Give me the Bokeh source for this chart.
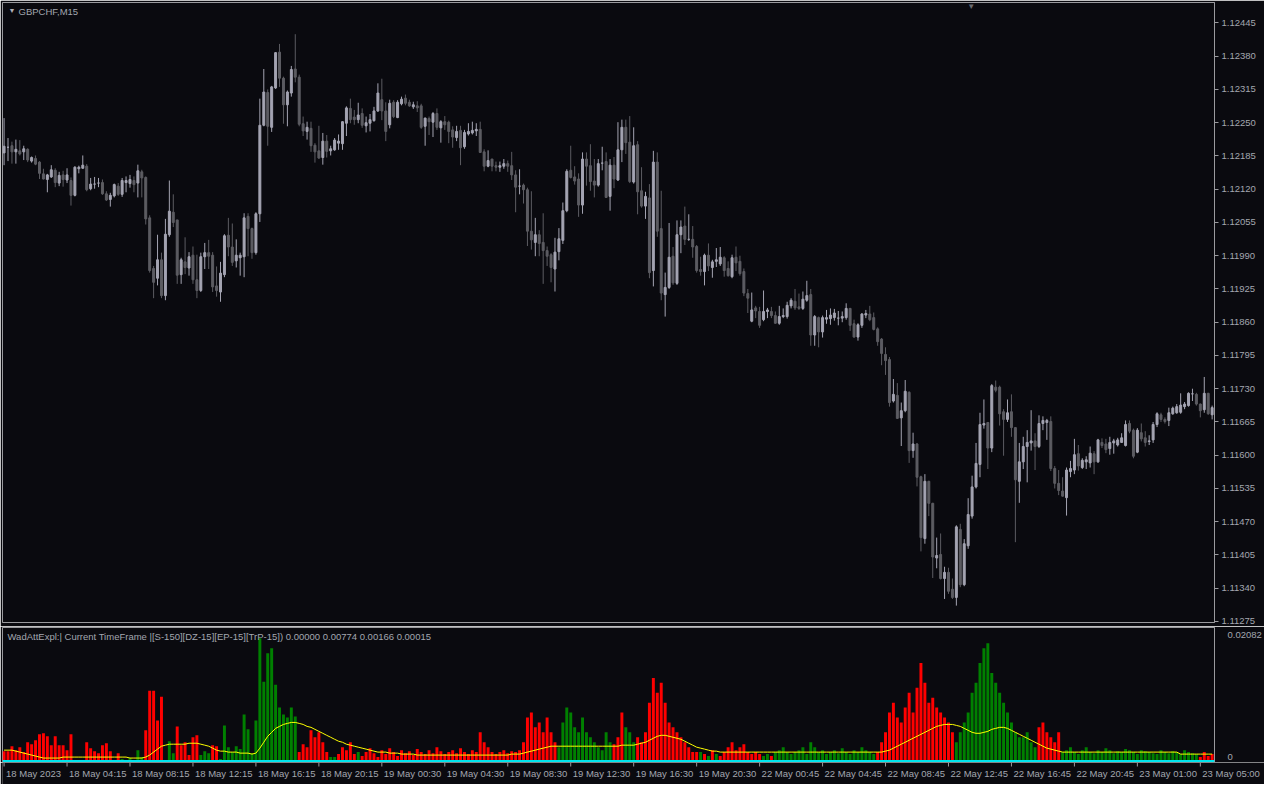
from bokeh.plotting import figure
from bokeh.layouts import column
from bokeh.models import (ColumnDataSource, FixedTicker, PrintfTickFormatter, Range1d,
                          Span, Label, Plot)
from bokeh.core.properties import value
from bokeh.embed import file_html
from bokeh.resources import INLINE

# ---------------- data ----------------
symbol = "GBPCHF,M15"
indicator_caption = ("WadAttExpl:| Current TimeFrame |[S-150][DZ-15][EP-15][TrP-15]) "
                     "0.00000 0.00774 0.00166 0.00015")

opens = [
 1.12191,1.12202,1.12205,1.12193,1.12195,1.12193,1.12198,1.12175,1.12180,1.12173,
 1.12150,1.12139,1.12144,1.12157,1.12132,1.12148,1.12138,1.12137,1.12108,1.12160,
 1.12161,1.12165,1.12121,1.12130,1.12132,1.12133,1.12111,1.12100,1.12107,1.12126,
 1.12110,1.12133,1.12131,1.12137,1.12132,1.12154,1.12143,1.12064,1.11965,1.11946,
 1.11982,1.11912,1.12031,1.12075,1.12060,1.11953,1.11978,1.11966,1.11991,1.11943,
 1.11922,1.11988,1.11996,1.11991,1.11931,1.11919,1.11953,1.12030,1.12007,1.11980,
 1.11986,1.11988,1.12067,1.12043,1.11996,1.12072,1.12245,1.12309,1.12241,1.12318,
 1.12388,1.12337,1.12285,1.12308,1.12355,1.12339,1.12248,1.12233,1.12239,1.12206,
 1.12195,1.12182,1.12214,1.12195,1.12197,1.12210,1.12209,1.12249,1.12278,1.12261,
 1.12256,1.12268,1.12244,1.12249,1.12254,1.12273,1.12295,1.12273,1.12246,1.12290,
 1.12260,1.12287,1.12298,1.12290,1.12281,1.12283,1.12283,1.12243,1.12258,1.12251,
 1.12268,1.12240,1.12252,1.12251,1.12236,1.12221,1.12235,1.12203,1.12228,1.12230,
 1.12234,1.12237,1.12193,1.12165,1.12179,1.12166,1.12163,1.12165,1.12170,1.12166,
 1.12148,1.12126,1.12128,1.12119,1.12038,1.12016,1.12031,1.12016,1.12000,1.11992,
 1.11964,1.11998,1.12020,1.12078,1.12157,1.12144,1.12140,1.12089,1.12179,1.12166,
 1.12136,1.12128,1.12171,1.12174,1.12106,1.12167,1.12138,1.12197,1.12241,1.12212,
 1.12134,1.12207,1.12117,1.12087,1.12103,1.11961,1.12173,1.12043,1.11914,1.11928,
 1.11989,1.11936,1.12031,1.12048,1.12022,1.12022,1.12008,1.11963,1.11959,1.11991,
 1.11967,1.11979,1.11974,1.11986,1.11965,1.11949,1.11987,1.11979,1.11959,1.11916,
 1.11862,1.11888,1.11881,1.11865,1.11881,1.11881,1.11873,1.11858,1.11871,1.11871,
 1.11892,1.11901,1.11890,1.11887,1.11903,1.11914,1.11835,1.11869,1.11841,1.11866,
 1.11867,1.11869,1.11868,1.11868,1.11869,1.11887,1.11857,1.11831,1.11854,1.11874,
 1.11876,1.11869,1.11847,1.11827,1.11797,1.11787,1.11706,1.11717,1.11673,1.11687,
 1.11723,1.11609,1.11622,1.11558,1.11437,1.11549,1.11506,1.11399,1.11406,1.11359,
 1.11371,1.11338,1.11322,1.11455,1.11347,1.11423,1.11481,1.11538,1.11582,1.11659,
 1.11664,1.11614,1.11733,1.11733,1.11685,1.11670,1.11685,1.11654,1.11549,1.11587,
 1.11617,1.11624,1.11628,1.11617,1.11662,1.11664,1.11666,1.11574,1.11545,1.11530,
 1.11517,1.11568,1.11571,1.11603,1.11576,1.11587,1.11585,1.11603,1.11587,1.11625,
 1.11622,1.11613,1.11624,1.11620,1.11625,1.11619,1.11662,1.11649,1.11606,1.11644,
 1.11634,1.11627,1.11630,1.11660,1.11679,1.11670,1.11668,1.11681,1.11683,1.11684,
 1.11695,1.11697,1.11720,1.11719,1.11700,1.11689,1.11721,1.11679]

highs = [
 1.12259,1.12220,1.12213,1.12217,1.12216,1.12205,1.12200,1.12184,1.12186,1.12175,
 1.12160,1.12150,1.12167,1.12161,1.12154,1.12156,1.12161,1.12143,1.12165,1.12166,
 1.12186,1.12169,1.12142,1.12144,1.12142,1.12139,1.12116,1.12113,1.12131,1.12132,
 1.12142,1.12145,1.12148,1.12145,1.12168,1.12158,1.12145,1.12069,1.11970,1.12031,
 1.11996,1.12062,1.12137,1.12110,1.12060,1.11986,1.12026,1.11997,1.12008,1.11992,
 1.11996,1.12015,1.12021,1.11997,1.11969,1.11978,1.12032,1.12064,1.12053,1.12022,
 1.11996,1.12073,1.12073,1.12045,1.12075,1.12297,1.12355,1.12315,1.12322,1.12388,
 1.12404,1.12340,1.12313,1.12361,1.12423,1.12344,1.12262,1.12252,1.12252,1.12210,
 1.12244,1.12230,1.12226,1.12205,1.12220,1.12227,1.12253,1.12282,1.12297,1.12275,
 1.12289,1.12278,1.12262,1.12267,1.12281,1.12327,1.12336,1.12290,1.12295,1.12294,
 1.12294,1.12301,1.12305,1.12295,1.12291,1.12292,1.12287,1.12260,1.12262,1.12271,
 1.12278,1.12255,1.12263,1.12254,1.12243,1.12244,1.12244,1.12236,1.12249,1.12252,
 1.12249,1.12252,1.12198,1.12196,1.12179,1.12174,1.12174,1.12179,1.12176,1.12193,
 1.12157,1.12159,1.12131,1.12123,1.12116,1.12064,1.12040,1.12073,1.12008,1.11995,
 1.12025,1.12044,1.12094,1.12159,1.12205,1.12165,1.12151,1.12192,1.12192,1.12208,
 1.12179,1.12179,1.12203,1.12192,1.12179,1.12183,1.12251,1.12256,1.12256,1.12263,
 1.12241,1.12214,1.12163,1.12115,1.12130,1.12195,1.12192,1.12117,1.11957,1.12054,
 1.12007,1.12059,1.12059,1.12086,1.12071,1.12048,1.12011,1.11988,1.11994,1.12014,
 1.11982,1.12005,1.12007,1.11989,1.11979,1.11992,1.12008,1.11990,1.11965,1.11925,
 1.11918,1.11892,1.11890,1.11922,1.11888,1.11890,1.11881,1.11892,1.11887,1.11900,
 1.11907,1.11925,1.11916,1.11920,1.11941,1.11925,1.11874,1.11871,1.11873,1.11884,
 1.11887,1.11886,1.11882,1.11881,1.11897,1.11888,1.11865,1.11858,1.11878,1.11884,
 1.11892,1.11879,1.11850,1.11829,1.11811,1.11792,1.11749,1.11741,1.11703,1.11747,
 1.11725,1.11644,1.11624,1.11560,1.11563,1.11550,1.11507,1.11439,1.11447,1.11382,
 1.11380,1.11359,1.11463,1.11466,1.11436,1.11516,1.11560,1.11624,1.11683,1.11709,
 1.11665,1.11739,1.11746,1.11736,1.11690,1.11709,1.11719,1.11655,1.11624,1.11636,
 1.11649,1.11688,1.11643,1.11678,1.11676,1.11671,1.11676,1.11579,1.11571,1.11557,
 1.11576,1.11589,1.11632,1.11620,1.11594,1.11598,1.11617,1.11608,1.11632,1.11633,
 1.11632,1.11636,1.11632,1.11634,1.11643,1.11668,1.11668,1.11652,1.11653,1.11662,
 1.11647,1.11639,1.11665,1.11684,1.11683,1.11674,1.11693,1.11695,1.11700,1.11721,
 1.11704,1.11723,1.11730,1.11722,1.11701,1.11753,1.11722,1.11697]

lows = [
 1.12167,1.12175,1.12170,1.12170,1.12186,1.12177,1.12173,1.12172,1.12167,1.12140,
 1.12139,1.12114,1.12142,1.12124,1.12126,1.12125,1.12132,1.12088,1.12106,1.12151,
 1.12160,1.12116,1.12118,1.12121,1.12124,1.12109,1.12097,1.12086,1.12104,1.12107,
 1.12105,1.12114,1.12123,1.12114,1.12104,1.12104,1.12051,1.11957,1.11907,1.11932,
 1.11907,1.11903,1.12027,1.12046,1.11935,1.11935,1.11954,1.11951,1.11935,1.11907,
 1.11919,1.11964,1.11964,1.11919,1.11910,1.11900,1.11948,1.11989,1.11970,1.11967,
 1.11951,1.11948,1.11989,1.11984,1.11992,1.12056,1.12243,1.12205,1.12232,1.12316,
 1.12320,1.12248,1.12243,1.12301,1.12329,1.12243,1.12224,1.12217,1.12193,1.12172,
 1.12179,1.12168,1.12182,1.12186,1.12195,1.12197,1.12197,1.12224,1.12249,1.12246,
 1.12249,1.12240,1.12231,1.12233,1.12252,1.12271,1.12255,1.12214,1.12239,1.12259,
 1.12259,1.12284,1.12284,1.12281,1.12277,1.12271,1.12238,1.12205,1.12226,1.12222,
 1.12236,1.12211,1.12236,1.12210,1.12201,1.12214,1.12167,1.12199,1.12225,1.12227,
 1.12224,1.12191,1.12155,1.12163,1.12155,1.12155,1.12154,1.12160,1.12154,1.12138,
 1.12075,1.12110,1.12092,1.12009,1.12002,1.11989,1.11989,1.11935,1.11970,1.11938,
 1.11920,1.11981,1.12013,1.12075,1.12141,1.12129,1.12066,1.12072,1.12127,1.12117,
 1.12104,1.12125,1.12157,1.12103,1.12078,1.12122,1.12136,1.12173,1.12189,1.12132,
 1.12131,1.12071,1.12084,1.12062,1.11946,1.11930,1.12027,1.11903,1.11871,1.11925,
 1.11933,1.11933,1.11995,1.12011,1.12019,1.11986,1.11957,1.11951,1.11932,1.11960,
 1.11947,1.11968,1.11970,1.11949,1.11949,1.11946,1.11960,1.11951,1.11911,1.11878,
 1.11860,1.11868,1.11849,1.11862,1.11868,1.11868,1.11857,1.11855,1.11868,1.11867,
 1.11887,1.11884,1.11884,1.11884,1.11900,1.11814,1.11814,1.11811,1.11830,1.11857,
 1.11855,1.11863,1.11854,1.11860,1.11865,1.11843,1.11830,1.11824,1.11849,1.11868,
 1.11862,1.11844,1.11814,1.11776,1.11757,1.11695,1.11703,1.11671,1.11618,1.11684,
 1.11585,1.11595,1.11539,1.11412,1.11427,1.11481,1.11360,1.11379,1.11357,1.11319,
 1.11329,1.11319,1.11306,1.11342,1.11344,1.11417,1.11476,1.11535,1.11557,1.11652,
 1.11573,1.11606,1.11723,1.11658,1.11599,1.11665,1.11636,1.11430,1.11507,1.11573,
 1.11547,1.11609,1.11571,1.11614,1.11649,1.11630,1.11569,1.11535,1.11522,1.11519,
 1.11482,1.11557,1.11563,1.11570,1.11573,1.11573,1.11576,1.11563,1.11585,1.11614,
 1.11604,1.11601,1.11603,1.11617,1.11624,1.11617,1.11643,1.11594,1.11604,1.11627,
 1.11617,1.11620,1.11624,1.11655,1.11665,1.11662,1.11657,1.11679,1.11681,1.11681,
 1.11690,1.11695,1.11706,1.11697,1.11674,1.11683,1.11679,1.11670]

closes = [
 1.12204,1.12202,1.12193,1.12198,1.12189,1.12199,1.12177,1.12182,1.12169,1.12151,
 1.12140,1.12148,1.12158,1.12133,1.12147,1.12139,1.12148,1.12108,1.12163,1.12163,
 1.12167,1.12119,1.12130,1.12130,1.12132,1.12111,1.12099,1.12108,1.12129,1.12110,
 1.12137,1.12137,1.12139,1.12129,1.12156,1.12142,1.12062,1.11961,1.11938,1.11982,
 1.11912,1.12032,1.12077,1.12055,1.11952,1.11982,1.11967,1.11988,1.11943,1.11922,
 1.11988,1.11996,1.11989,1.11929,1.11922,1.11956,1.12029,1.12007,1.11977,1.11991,
 1.11991,1.12064,1.12043,1.11996,1.12072,1.12245,1.12310,1.12243,1.12320,1.12387,
 1.12337,1.12285,1.12310,1.12354,1.12339,1.12247,1.12234,1.12241,1.12205,1.12193,
 1.12181,1.12214,1.12194,1.12199,1.12216,1.12214,1.12252,1.12279,1.12256,1.12256,
 1.12265,1.12245,1.12250,1.12256,1.12273,1.12308,1.12273,1.12233,1.12288,1.12262,
 1.12290,1.12296,1.12288,1.12283,1.12285,1.12279,1.12241,1.12259,1.12252,1.12268,
 1.12241,1.12252,1.12246,1.12233,1.12222,1.12233,1.12201,1.12231,1.12233,1.12235,
 1.12237,1.12192,1.12165,1.12176,1.12165,1.12163,1.12166,1.12170,1.12165,1.12148,
 1.12124,1.12126,1.12119,1.12038,1.12021,1.12031,1.12014,1.12000,1.11989,1.11967,
 1.11997,1.12023,1.12078,1.12155,1.12143,1.12136,1.12089,1.12179,1.12165,1.12135,
 1.12128,1.12170,1.12171,1.12104,1.12167,1.12140,1.12197,1.12241,1.12211,1.12135,
 1.12205,1.12115,1.12087,1.12106,1.11957,1.12173,1.12038,1.11917,1.11928,1.11987,
 1.11937,1.12031,1.12046,1.12022,1.12022,1.12007,1.11961,1.11959,1.11991,1.11970,
 1.11978,1.11982,1.11987,1.11961,1.11951,1.11986,1.11976,1.11955,1.11917,1.11907,
 1.11884,1.11882,1.11854,1.11881,1.11884,1.11873,1.11858,1.11871,1.11873,1.11893,
 1.11903,1.11888,1.11887,1.11905,1.11912,1.11835,1.11871,1.11841,1.11869,1.11869,
 1.11874,1.11878,1.11868,1.11871,1.11887,1.11854,1.11831,1.11855,1.11876,1.11877,
 1.11865,1.11846,1.11822,1.11799,1.11785,1.11703,1.11719,1.11672,1.11687,1.11725,
 1.11609,1.11622,1.11557,1.11439,1.11549,1.11506,1.11401,1.11404,1.11359,1.11371,
 1.11334,1.11322,1.11460,1.11347,1.11427,1.11484,1.11538,1.11584,1.11660,1.11662,
 1.11614,1.11736,1.11727,1.11681,1.11670,1.11683,1.11654,1.11552,1.11587,1.11617,
 1.11625,1.11628,1.11617,1.11662,1.11668,1.11668,1.11574,1.11545,1.11531,1.11520,
 1.11571,1.11574,1.11601,1.11579,1.11590,1.11591,1.11604,1.11587,1.11630,1.11619,
 1.11611,1.11625,1.11628,1.11630,1.11634,1.11660,1.11647,1.11598,1.11649,1.11632,
 1.11625,1.11628,1.11660,1.11681,1.11670,1.11666,1.11683,1.11692,1.11695,1.11698,
 1.11700,1.11721,1.11720,1.11700,1.11687,1.11721,1.11681,1.11693]

# Waddah Attar Explosion histogram, in units of 0.00001 (+ = green trend, - = red trend)
wae_hist = [
 -179,-179,-260,-195,-244,-163,-325,-293,-358,-456,-472,-423,-277,-423,-277,-277,-195,-456,
 0,0,0,
 -325,-228,-179,-146,-277,-309,-179,0,-146,
 49,33,65,0,195,81,
 -521,-1171,-1171,-683,-1074,-33,
 342,146,
 -586,-277,-325,-114,-407,-439,
 114,179,146,
 -277,-260,
 49,602,244,163,260,212,781,537,146,683,
 2034,1318,1790,1871,1269,895,781,732,895,748,
 -163,-293,-244,-521,
 -407,-488,-325,-163,81,81,
 -130,-244,-195,-325,-130,163,-98,-163,-228,-146,-81,
 -195,-130,-228,-163,-98,-195,-146,-179,-114,-212,-163,-130,-195,-146,-244,-179,-130,-163,-195,-146,-228,-163,-130,-195,-163,
 -488,-325,-244,-163,
 -130,-163,-195,-146,-179,-163,-195,
 -325,-732,-814,-570,-651,-488,-732,-488,-325,
 244,651,895,814,570,488,732,488,407,
 325,244,195,488,325,-293,-407,-814,570,488,325,
 -407,-325,-488,-976,-1383,-1139,-1302,-976,-651,-570,
 -488,-407,-325,-244,-163,-163,
 163,-130,98,-195,130,-98,-163,-244,-325,-195,-244,-293,-163,-130,
 -163,-130,98,130,-98,163,195,244,163,130,
 163,195,244,130,325,244,163,195,130,163,195,146,228,163,130,195,163,244,195,163,130,
 -163,-325,-488,-814,-976,-732,-651,-895,-1139,-814,-1220,-1627,-1302,-976,-1058,-895,-814,-732,-651,-488,
 325,488,651,814,1139,1302,1627,1871,1952,1464,1302,1139,976,814,651,488,407,
 407,488,325,244,-570,-651,-488,-407,-325,-488,
 163,195,244,163,130,195,244,163,146,195,163,228,195,146,179,163,212,195,163,130,
 195,179,163,146,130,195,163,146,179,163,130,195,163,146,130,-81,-163,-98,-130]

# explosion line, in units of 0.00001
explosion = [
 195,195,195,179,163,146,130,114,98,81,
 65,65,65,65,65,81,81,81,81,81,81,81,81,81,81,81,81,81,81,81,
 81,81,65,65,65,65,
 81,114,163,212,260,277,293,293,293,293,
 293,309,309,309,293,277,260,228,195,179,
 179,163,163,163,146,146,146,130,146,
 228,325,423,488,553,586,618,635,651,651,
 635,618,586,570,537,504,472,439,407,374,
 342,325,293,277,260,244,228,212,195,179,163,
 163,163,146,146,146,130,130,130,130,114,114,114,114,114,114,114,114,114,114,114,114,114,114,114,114,114,114,114,114,114,114,114,114,130,130,
 130,146,163,179,195,212,228,244,260,260,
 260,260,260,260,260,260,260,260,260,260,260,260,260,260,260,260,277,277,277,277,
 293,309,325,358,391,423,439,439,423,407,
 391,374,342,309,277,244,228,212,195,179,179,163,163,163,163,
 163,163,163,163,163,163,163,163,163,163,163,163,163,163,163,163,163,163,
 163,163,163,163,163,163,163,163,163,163,163,163,163,163,163,163,163,163,
 163,163,179,195,228,260,293,325,358,391,423,456,488,521,553,586,602,618,618,618,
 602,586,553,521,488,472,472,488,504,537,553,570,570,553,521,488,456,
 423,391,358,325,293,260,228,212,195,179,
 163,163,163,163,163,163,163,163,163,163,163,163,163,163,163,163,163,163,163,163,
 163,163,163,163,163,163,163,163,163,163,130,130,130,130,130,130,130,130,130]

dead_zone = 0.00015
indicator_max = 0.02082

price_ticks = [1.11275, 1.11340, 1.11405, 1.11470, 1.11535, 1.11600, 1.11665, 1.11730,
               1.11795, 1.11860, 1.11925, 1.11990, 1.12055, 1.12120, 1.12185, 1.12250,
               1.12315, 1.12380, 1.12445]

time_label_bars = [0, 16, 32, 48, 64, 80, 96, 112, 128, 144, 160, 176, 192, 208, 224,
                   240, 256, 272, 288, 304]
time_labels = ["18 May 2023", "18 May 04:15", "18 May 08:15", "18 May 12:15", "18 May 16:15",
               "18 May 20:15", "19 May 00:30", "19 May 04:30", "19 May 08:30", "19 May 12:30",
               "19 May 16:30", "19 May 20:30", "22 May 00:45", "22 May 04:45", "22 May 08:45",
               "22 May 12:45", "22 May 16:45", "22 May 20:45", "23 May 01:00", "23 May 05:00"]

# ---------------- styling ----------------
BG = "#0a0a0f"
FG = "#a3a7b0"
FRAME = "#9a9a9e"
FONT = "Liberation Sans"
FS = "9.5px"
BULL = "#a4a4b2"
BEAR = "#5c5c62"
W = 1264
LEFT = 2
RIGHT = 50
X0, X1 = -0.4, 307.6
can_unalign = "frame_align" in Plot.properties()

n = len(closes)
xs = list(range(n))
is_bull = [c >= o for o, c in zip(opens, closes)]
candle_src = ColumnDataSource(dict(
    x=xs, high=highs, low=lows,
    top=[max(o, c) for o, c in zip(opens, closes)],
    bottom=[min(o, c) for o, c in zip(opens, closes)],
    color=[BULL if b else BEAR for b in is_bull]))

x_range = Range1d(X0, X1)

main = figure(width=W, height=626, x_range=x_range, y_range=Range1d(1.11273, 1.12485),
              x_axis_location=None, y_axis_location="right",
              output_backend="svg", toolbar_location=None,
              background_fill_color=BG, border_fill_color=BG,
              min_border_left=LEFT, min_border_right=RIGHT, min_border_top=2,
              min_border_bottom=4)
main.grid.visible = False
main.outline_line_color = FRAME
main.segment(x0="x", y0="low", x1="x", y1="high", line_color="color", line_width=1,
             source=candle_src)
main.vbar(x="x", top="top", bottom="bottom", width=0.5, fill_color="color",
          line_color="color", line_width=1, source=candle_src)

ya = main.yaxis[0]
ya.ticker = FixedTicker(ticks=price_ticks)
ya.formatter = PrintfTickFormatter(format="%.5f")
ya.axis_line_color = FRAME
ya.major_tick_line_color = FRAME
ya.major_tick_out = 4
ya.major_tick_in = 0
ya.minor_tick_line_color = None
ya.major_label_text_color = FG
ya.major_label_text_font = FONT
ya.major_label_text_font_size = FS
ya.major_label_standoff = 3

main.add_layout(Label(x=X0, y=1.12485, x_offset=6, y_offset=-4, text="\u25BC",
                      text_color="#b0b0b8", text_font_size="7px", text_baseline="top"))
main.add_layout(Label(x=X0, y=1.12485, x_offset=16, y_offset=-3, text=symbol,
                      text_color=FG, text_font=FONT, text_font_size=FS, text_baseline="top"))
main.add_layout(Label(x=245.8, y=1.12485, x_offset=0, y_offset=1, text="\u25BC",
                      text_color="#6a6a70", text_font_size="8px", text_baseline="top",
                      text_align="center"))

# ---------------- indicator ----------------
green = [v / 1e5 if v > 0 else 0 for v in wae_hist]
red = [-v / 1e5 if v < 0 else 0 for v in wae_hist]
exp_line = [v / 1e5 for v in explosion]
ind_src = ColumnDataSource(dict(x=xs, green=green, red=red, exp=exp_line))

ind = figure(width=W, height=136, x_range=x_range, y_range=Range1d(-0.00008, 0.02212),
             x_axis_location=None, y_axis_location="right",
             output_backend="svg", toolbar_location=None,
             background_fill_color=BG, border_fill_color=BG,
             min_border_left=LEFT, min_border_right=RIGHT, min_border_top=1,
             min_border_bottom=0)
ind.grid.visible = False
ind.outline_line_color = FRAME
ind.vbar(x="x", top="green", width=0.75, fill_color="#008000", line_color=None, source=ind_src)
ind.vbar(x="x", top="red", width=0.75, fill_color="#ff0000", line_color=None, source=ind_src)
ind.line(x="x", y="exp", line_color="#ffff00", line_width=1, source=ind_src)
ind.add_layout(Span(location=dead_zone, dimension="width", line_color="#00e5ee", line_width=2))

# the terminal prints its "0" level caption just above the zero line
zero_caption_level = 0.0008
iy = ind.yaxis[0]
iy.ticker = FixedTicker(ticks=[zero_caption_level, indicator_max])
iy.formatter = PrintfTickFormatter(format="%.5f")
iy.major_label_overrides = {zero_caption_level: "0"}
iy.axis_line_color = FRAME
iy.major_tick_line_color = None
iy.minor_tick_line_color = None
iy.major_label_text_color = FG
iy.major_label_text_font = FONT
iy.major_label_text_font_size = FS
iy.major_label_standoff = 7

ind.add_layout(Label(x=X0, y=0.02212, x_offset=5, y_offset=-3, text=indicator_caption,
                     text_color=FG, text_font=FONT, text_font_size=FS, text_baseline="top"))

# ---------------- time axis strip ----------------
if can_unalign:
    strip_x1 = X0 + (X1 - X0) * (W - LEFT) / (W - LEFT - RIGHT)
    strip_border_right = 0
else:
    strip_x1 = X1
    strip_border_right = RIGHT
strip = figure(width=W, height=22, x_range=Range1d(X0, strip_x1), y_range=Range1d(0, 22),
               x_axis_location=None, y_axis_location=None,
               output_backend="svg", toolbar_location=None,
               background_fill_color=BG, border_fill_color=BG,
               min_border_left=LEFT, min_border_right=strip_border_right,
               min_border_top=0, min_border_bottom=0)
if can_unalign:
    strip.frame_align = False
strip.grid.visible = False
strip.outline_line_color = None
tick_src = ColumnDataSource(dict(x=time_label_bars, text=time_labels))
strip.segment(x0="x", y0=22, x1="x", y1=18, line_color=FRAME, line_width=1, source=tick_src)
strip.text(x="x", y=17, text="text", source=tick_src, x_offset=2,
           text_color=FG, text_font=value(FONT), text_font_size=FS,
           text_align="left", text_baseline="top")

layout = column(main, ind, strip, spacing=0)
open("out.html", "w").write(file_html(layout, INLINE))
